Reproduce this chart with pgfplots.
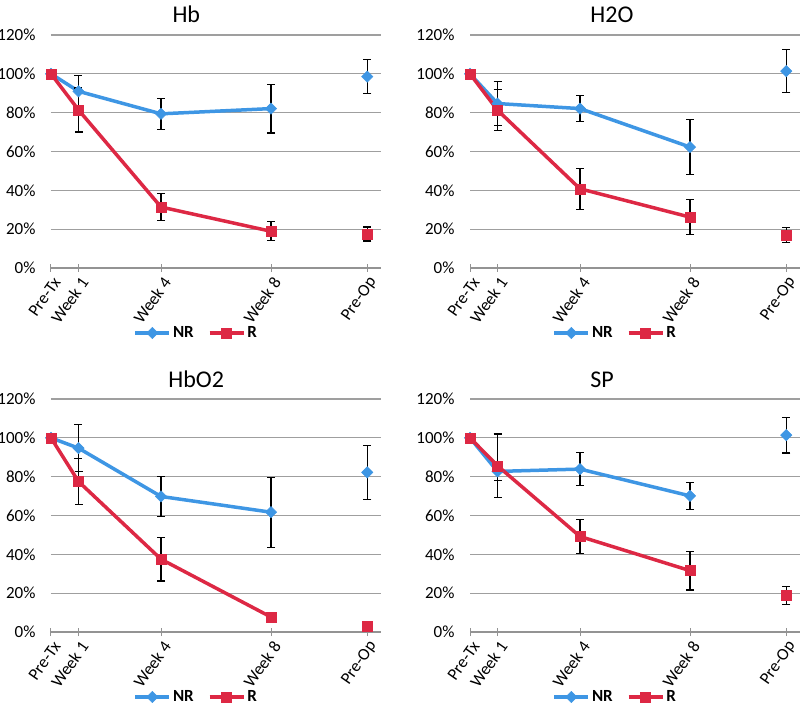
\documentclass[border=0pt]{standalone}
\usepackage{pgfplots}
\usepackage{pgfplotstable}
\pgfplotsset{compat=1.18}
\usepackage{fontspec}
\setmainfont{Carlito}
\definecolor{nrblue}{RGB}{62,150,228}
\definecolor{rred}{RGB}{221,40,68}

\pgfplotstableread{
x nr nre r re
0 100 0 100 0
1 91 8 81.4 11.3
4 79.4 7.9 31.4 7
8 82.1 12.5 18.9 4.9
11.5 98.6 8.6 17.5 3.6
}\hbdata
\pgfplotstableread{
x nr nre r re
0 100 0 100 0
1 84.7 11.2 81.3 10.5
4 82.1 6.8 40.8 10.6
8 62.3 14.1 26.2 9
11.5 101.4 11 16.9 3.9
}\hdata
\pgfplotstableread{
x nr nre r re
0 100 0 100 0
1 94.7 12.2 77.5 12
4 69.8 10.3 37.5 11.2
8 61.7 18 7.7 2.5
11.5 82.2 14 3.1 0
}\hbodata
\pgfplotstableread{
x nr nre r re
0 100 0 100 0
1 82.7 4.8 85.6 16.4
4 83.9 8.6 49.2 8.9
8 70.1 7 31.6 9.9
11.5 101.4 9.2 18.9 4.7
}\spdata

\pgfplotsset{
  panel/.style={
    scale only axis, width=330pt, height=233pt,
    xmin=0, xmax=12, ymin=0, ymax=120,
    axis x line*=bottom, axis y line*=left,
    y axis line style={draw=none},
    x axis line style={draw=gray!85, line width=1.2pt},
    xtick={0,1,4,8,11.5},
    xticklabels={Pre-Tx,Week 1,Week 4,Week 8,Pre-Op},
    xtick style={draw=gray!85, line width=1pt},
    major tick length=8pt, tick align=center,
    ytick={0,20,...,120},
    yticklabels={0\%,20\%,40\%,60\%,80\%,100\%,120\%},
    ytick style={draw=none},
    ymajorgrids, grid style={gray!75, line width=1.2pt},
    tick label style={font=\fontsize{17}{20}\selectfont},
    xticklabel style={rotate=55, anchor=east, yshift=-9pt, xshift=1pt},
    yticklabel style={xshift=-8pt},
    title style={font=\fontsize{24}{28}\selectfont, anchor=base, yshift=6pt},
    legend style={font=\fontsize{17}{20}\selectfont\bfseries, draw=none, fill=none,
      legend columns=2, anchor=center, at={(0.44,-0.279)},
      /tikz/every even column/.append style={column sep=12pt}},
    legend image code/.code={\draw[mark repeat=2,mark phase=2,#1] plot coordinates {(0pt,0pt)(17pt,0pt)(34pt,0pt)};},
    clip=false,
  },
  nr/.style={color=nrblue, line width=3.5pt, mark=square*, mark size=4pt, mark options={rotate=45, line width=0.5pt}},
  rr/.style={color=rred, line width=3.5pt, mark=square*, mark size=5pt, mark options={line width=0.5pt}},
  errb/.style={draw=none, mark=none, forget plot, error bars/.cd, y dir=both, y explicit,
    error bar style={draw=black, line width=1.3pt},
    error mark options={rotate=90, mark size=4pt, line width=1.3pt, draw=black}},
}

\newcommand{\panel}[4]{%
\begin{axis}[panel, at={#1}, anchor=south west, title={#2}, title style={at={(#4,1)}}]
\addplot[nr, skip coords between index={4}{5}] table[x=x, y=nr] {#3};
\addlegendentry{NR}
\addplot[rr, skip coords between index={4}{5}] table[x=x, y=r] {#3};
\addlegendentry{R}
\addplot[nr, only marks, forget plot, skip coords between index={0}{4}] table[x=x, y=nr] {#3};
\addplot[rr, only marks, forget plot, skip coords between index={0}{4}] table[x=x, y=r] {#3};
\addplot[skip coords between index={0}{1}, errb] table[x=x, y=nr, y error=nre] {#3};
\addplot[skip coords between index={0}{1}, errb] table[x=x, y=r, y error=re] {#3};
\end{axis}}

\begin{document}
\begin{tikzpicture}
\path[use as bounding box] (0,0) rectangle (800pt,702pt);
\panel{(51pt,434pt)}{Hb}{\hbdata}{0.41}
\panel{(470pt,434pt)}{H2O}{\hdata}{0.43}
\panel{(51pt,70pt)}{HbO2}{\hbodata}{0.44}
\panel{(470pt,70pt)}{SP}{\spdata}{0.40}
\end{tikzpicture}
\end{document}
